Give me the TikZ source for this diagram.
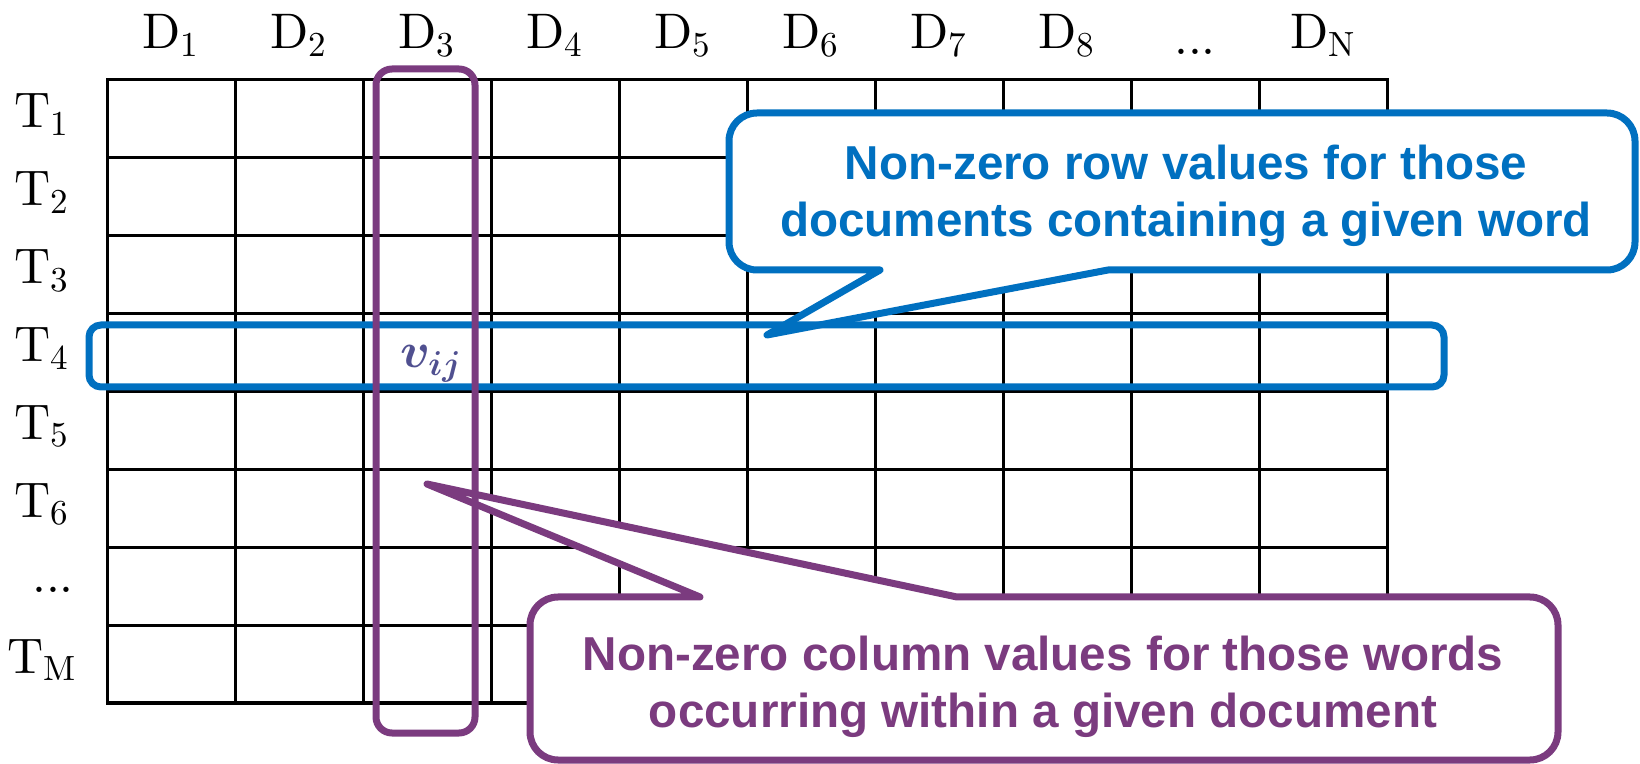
\documentclass[tikz,border=0pt]{standalone}
\usepackage{fontspec}
\usepackage{amsmath}
\newfontfamily\callfont{Liberation Sans}
\newfontfamily\labfont{lmroman10-regular}[Extension=.otf]
\definecolor{callblue}{HTML}{0070C0}
\definecolor{callpurple}{HTML}{7B3B7F}
\definecolor{vcol}{HTML}{505090}
\begin{document}
\begin{tikzpicture}[x=0.5pt,y=-0.5pt,
  gridline/.style={line width=1.5pt,black,line cap=rect},
  hilite/.style={line width=3.5pt},
  callout/.style={line width=3.5pt,fill=white,line join=round},
  collab/.style={font=\labfont\fontsize{25}{30}\selectfont,anchor=base,inner sep=0pt},
  calltext/.style={font=\callfont\bfseries\fontsize{23.8}{28.5}\selectfont,anchor=base,inner sep=0pt}
]
\useasboundingbox (0,0) rectangle (1640,764);
% grid
\foreach \i in {0,...,10} \draw[gridline] (107+128*\i,80) -- (107+128*\i,703);
\foreach \j in {0,...,8} \draw[gridline] (107,80+77.875*\j) -- (1387,80+77.875*\j);
% column labels
\foreach \i/\s in {1/1,2/2,3/3,4/4,5/5,6/6,7/7,8/8,10/N}
  \node[collab] (d\i) at (43+128*\i,49) {D\textsubscript{\s}};
\node[collab] (d9) at (1195,55) {...};
% row labels
\foreach \j/\s in {1/1,2/2,3/3,4/4,5/5,6/6,8/M}
  \node[collab] (t\j) at (42,80+77.875*\j-38.9+9) {T\textsubscript{\s}};
\node[collab] (t7) at (53,593) {...};
% callouts
\coordinate (bluetip) at (767,335);
\coordinate (purpletip) at (427,484);
\draw[callout,draw=callblue] (729,190) [rounded corners=14pt] -- (729,113) -- (1635,113) -- (1635,270) -- (1300,270)
  [sharp corners] -- (1108,270) -- (bluetip) -- (880,270) -- (850,270)
  [rounded corners=14pt] -- (729,270) -- cycle;
\draw[callout,draw=callpurple] (530,680) [rounded corners=14pt] -- (530,597) -- (660,597)
  [sharp corners] -- (700,597) -- (purpletip) -- (957,597) -- (1000,597)
  [rounded corners=14pt] -- (1558,597) -- (1558,760) -- (530,760) -- cycle;
% highlight boxes
\draw[hilite,draw=callblue,rounded corners=6pt] (89,325) rectangle (1444,387);
\draw[hilite,draw=callpurple,rounded corners=8pt] (376,69) rectangle (475,733);
\node[text=vcol,font=\fontsize{27}{30}\selectfont,inner sep=0pt] (vij) at (431,364) {$\boldsymbol{v_{ij}}$};
% callout texts
\node[calltext,text=callblue] (bt1) at (1186,180) {Non-zero row values for those};
\node[calltext,text=callblue] (bt2) at (1186,237) {documents containing a given word};
\node[calltext,text=callpurple] (pt1) at (1043,670) {Non-zero column values for those words};
\node[calltext,text=callpurple] (pt2) at (1043,727) {occurring within a given document};
\end{tikzpicture}
\end{document}
